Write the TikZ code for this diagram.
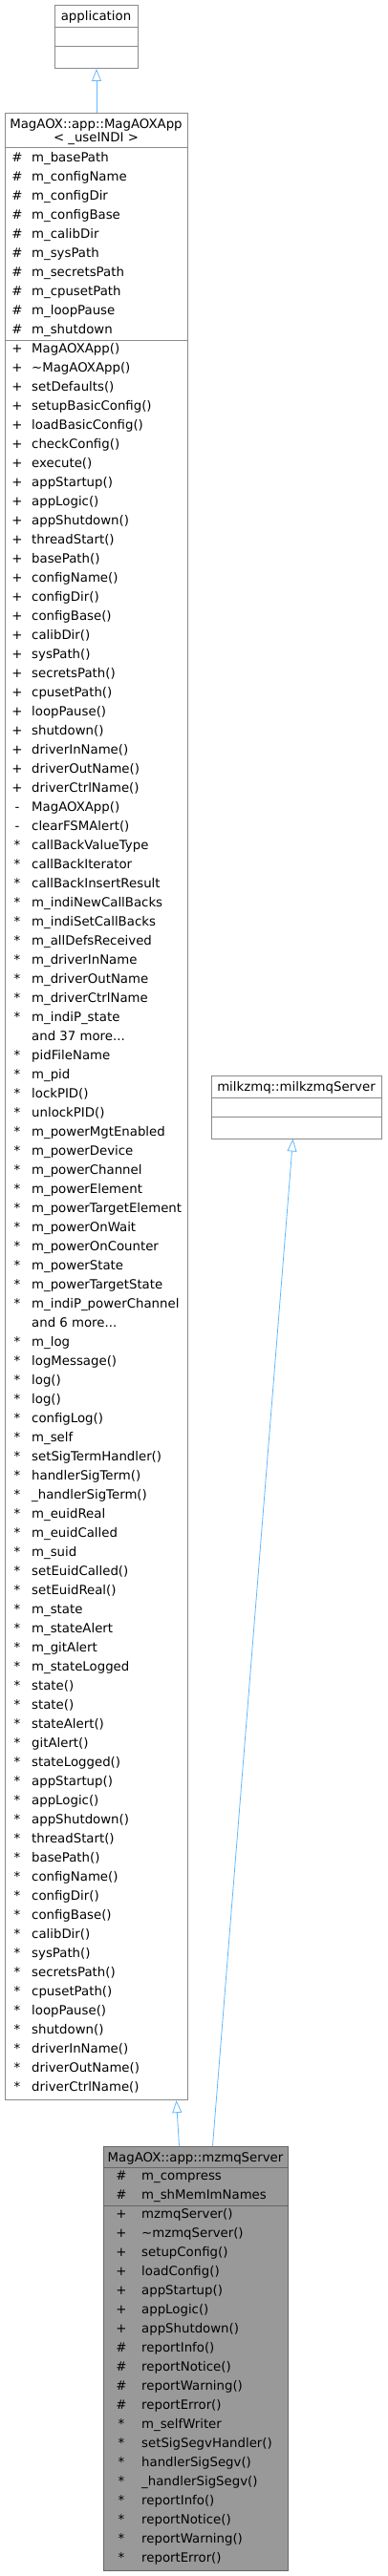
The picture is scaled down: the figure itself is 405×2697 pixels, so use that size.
\documentclass[tikz,border=0pt]{standalone}
\usepackage{fontspec}
\setmainfont{DejaVu Sans}
\usepackage{tikz}
\usetikzlibrary{arrows.meta}
\definecolor{EdgeGray}{HTML}{8A8A8A}
\definecolor{EdgeDark}{HTML}{666666}
\definecolor{FillDark}{HTML}{999999}
\definecolor{LinkBlue}{HTML}{63B8FF}
\newcommand{\umlfont}{\fontsize{13.3}{13.6}\selectfont}
\newcommand{\moredots}{...}
\tikzset{
  classbox/.style={draw=EdgeGray,fill=white,line width=1pt,inner sep=0pt,anchor=north west},
  focusbox/.style={classbox,draw=EdgeDark,fill=FillDark},
  sepline/.style={draw=EdgeGray,line width=1pt},
  darksep/.style={draw=EdgeDark,line width=1pt},
  clsname/.style={font=\umlfont,inner sep=0pt,anchor=base},
  vis/.style={font=\umlfont,inner sep=0pt,anchor=base},
  member/.style={font=\umlfont,inner sep=0pt,anchor=base west},
  inherit/.style={-{Triangle[open,length=13pt,width=10pt]},draw=LinkBlue,line width=0.8pt}
}

\begin{document}
\begin{tikzpicture}[x=1pt,y=-1pt]
  \useasboundingbox (0,0) rectangle (405,2697);

  % application
  \node[classbox,minimum width=87pt,minimum height=66pt] (app) at (57,5) {};
  \node[clsname] (appname) at (100.5,22) {application};
  \draw[sepline] (app.west |- 0,29) -- (app.east |- 0,29);
  \draw[sepline] (app.west |- 0,49) -- (app.east |- 0,49);

  % MagAOXApp
  \node[classbox,minimum width=191pt,minimum height=2080pt] (magaox) at (5,118) {};
  \node[clsname] (magaoxname) at (100.5,135) {MagAOX::app::MagAOXApp};
  \node[clsname] (magaoxtpl) at (100.5,148.5) {< \_useINDI >};
  \draw[sepline] (magaox.west |- 0,155) -- (magaox.east |- 0,155);
  \draw[sepline] (magaox.west |- 0,356) -- (magaox.east |- 0,356);
  \foreach \txt [count=\i from 0] in {m\_basePath,m\_configName,m\_configDir,m\_configBase,
      m\_calibDir,m\_sysPath,m\_secretsPath,m\_cpusetPath,m\_loopPause,m\_shutdown}{
    \node[vis] (magaoxav-\i) at (18,169.5+20*\i) {\#};
    \node[member] (magaoxat-\i) at (33,169.5+20*\i) {\txt};
  }
  \foreach \sym/\txt [count=\i from 0] in {
      +/MagAOXApp(),+/\textasciitilde MagAOXApp(),+/setDefaults(),+/setupBasicConfig(),
      +/loadBasicConfig(),+/checkConfig(),+/execute(),+/appStartup(),+/appLogic(),
      +/appShutdown(),+/threadStart(),+/basePath(),+/configName(),+/configDir(),
      +/configBase(),+/calibDir(),+/sysPath(),+/secretsPath(),+/cpusetPath(),
      +/loopPause(),+/shutdown(),+/driverInName(),+/driverOutName(),+/driverCtrlName(),
      -/MagAOXApp(),-/clearFSMAlert(),*/callBackValueType,*/callBackIterator,
      */callBackInsertResult,*/m\_indiNewCallBacks,*/m\_indiSetCallBacks,
      */m\_allDefsReceived,*/m\_driverInName,*/m\_driverOutName,*/m\_driverCtrlName,
      */m\_indiP\_state,{}/and 37 more\moredots,*/pidFileName,*/m\_pid,*/lockPID(),
      */unlockPID(),*/m\_powerMgtEnabled,*/m\_powerDevice,*/m\_powerChannel,
      */m\_powerElement,*/m\_powerTargetElement,*/m\_powerOnWait,*/m\_powerOnCounter,
      */m\_powerState,*/m\_powerTargetState,*/m\_indiP\_powerChannel,{}/and 6 more\moredots,
      */m\_log,*/logMessage(),*/log(),*/log(),*/configLog(),*/m\_self,
      */setSigTermHandler(),*/handlerSigTerm(),*/\_handlerSigTerm(),*/m\_euidReal,
      */m\_euidCalled,*/m\_suid,*/setEuidCalled(),*/setEuidReal(),*/m\_state,
      */m\_stateAlert,*/m\_gitAlert,*/m\_stateLogged,*/state(),*/state(),
      */stateAlert(),*/gitAlert(),*/stateLogged(),*/appStartup(),*/appLogic(),
      */appShutdown(),*/threadStart(),*/basePath(),*/configName(),*/configDir(),
      */configBase(),*/calibDir(),*/sysPath(),*/secretsPath(),*/cpusetPath(),
      */loopPause(),*/shutdown(),*/driverInName(),*/driverOutName(),*/driverCtrlName()}{
    \node[vis] (magaoxmv-\i) at (18,369.2+20*\i) {\sym};
    \node[member] (magaoxmt-\i) at (33,369.2+20*\i) {\txt};
  }

  % milkzmqServer
  \node[classbox,minimum width=178.6pt,minimum height=66pt] (milk) at (220.7,1125.5) {};
  \node[clsname] (milkname) at (310,1142.5) {milkzmq::milkzmqServer};
  \draw[sepline] (milk.west |- 0,1149.5) -- (milk.east |- 0,1149.5);
  \draw[sepline] (milk.west |- 0,1169.5) -- (milk.east |- 0,1169.5);

  % mzmqServer
  \node[focusbox,minimum width=193.6pt,minimum height=444.3pt] (mzmq) at (107.7,2246.7) {};
  \node[clsname] (mzmqname) at (204.5,2263) {MagAOX::app::mzmqServer};
  \draw[darksep] (mzmq.west |- 0,2269) -- (mzmq.east |- 0,2269);
  \draw[darksep] (mzmq.west |- 0,2309) -- (mzmq.east |- 0,2309);
  \foreach \txt [count=\i from 0] in {m\_compress,m\_shMemImNames}{
    \node[vis] (mzmqav-\i) at (127,2282.5+20*\i) {\#};
    \node[member] (mzmqat-\i) at (148,2282.5+20*\i) {\txt};
  }
  \foreach \sym/\txt [count=\i from 0] in {
      +/mzmqServer(),+/\textasciitilde mzmqServer(),+/setupConfig(),+/loadConfig(),
      +/appStartup(),+/appLogic(),+/appShutdown(),\#/reportInfo(),\#/reportNotice(),
      \#/reportWarning(),\#/reportError(),*/m\_selfWriter,*/setSigSegvHandler(),
      */handlerSigSegv(),*/\_handlerSigSegv(),*/reportInfo(),*/reportNotice(),
      */reportWarning(),*/reportError()}{
    \node[vis] (mzmqmv-\i) at (127,2322.5+20*\i) {\sym};
    \node[member] (mzmqmt-\i) at (148,2322.5+20*\i) {\txt};
  }

  \draw[inherit] (magaox.north) -- (app.south);
  \draw[inherit] ([xshift=-17.5pt]mzmq.north) -- ([xshift=83.5pt]magaox.south);
  \draw[inherit] ([xshift=17.5pt]mzmq.north) -- ([xshift=-4pt]milk.south);
\end{tikzpicture}
\end{document}
